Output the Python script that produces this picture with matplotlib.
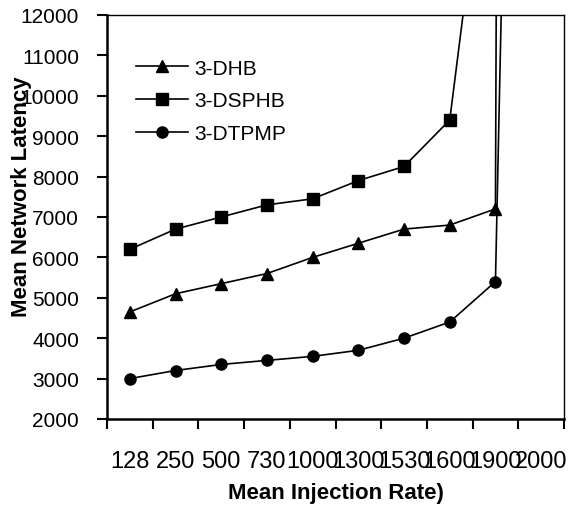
import matplotlib.pyplot as plt
import numpy as np

# dados (categorias do eixo x)
rates = ['128', '250', '500', '730', '1000', '1300', '1530', '1600', '1900', '2000']
dhb = [4650, 5100, 5350, 5600, 6000, 6350, 6700, 6800, 7200, 300000]
dsphb = [6200, 6700, 7000, 7300, 7450, 7900, 8250, 9400, 18350, np.nan]
dtpmp = [3000, 3200, 3350, 3450, 3550, 3700, 4000, 4400, 5400, 58000]
yticks = list(range(2000, 12001, 1000))

plt.rcParams['font.family'] = ['Liberation Sans', 'DejaVu Sans']

fig = plt.figure(figsize=(5.8, 5.06), dpi=100)
ax = fig.add_axes([0.1845, 0.170, 0.7879, 0.7984])

x = np.arange(len(rates))
ax.plot(x, dhb, color='black', lw=1.2, marker='^', ms=8, label='3-DHB')
ax.plot(x, dsphb, color='black', lw=1.2, marker='s', ms=8, label='3-DSPHB')
ax.plot(x, dtpmp, color='black', lw=1.2, marker='o', ms=8, label='3-DTPMP')

ax.set_ylim(2000, 12000)
ax.set_xlim(-0.5, len(rates) - 0.5)
ax.set_yticks(yticks)
ax.set_yticklabels([str(v) for v in yticks], fontsize=15)

# ticks nas divisas das categorias, rotulos no centro
ax.set_xticks(np.arange(-0.5, len(rates), 1.0))
ax.set_xticklabels([])
ax.set_xticks(x, minor=True)
ax.set_xticklabels(rates, minor=True, fontsize=17)
ax.tick_params(axis='x', which='major', direction='out', length=7, width=1.5)
ax.tick_params(axis='x', which='minor', length=0, pad=22)
ax.tick_params(axis='y', direction='out', length=7, width=1.5, pad=13)

for side in ['left', 'bottom']:
    ax.spines[side].set_linewidth(1.8)
for side in ['top', 'right']:
    ax.spines[side].set_linewidth(1.0)

ax.set_xlabel('Mean Injection Rate)', fontsize=16, fontweight='bold')
ax.set_ylabel('Mean Network Latency', fontsize=16, fontweight='bold')
ax.xaxis.set_label_coords(0.5, -0.155)
ax.yaxis.set_label_coords(-0.165, 0.553)

ax.legend(loc='upper left', bbox_to_anchor=(0.04, 0.918), frameon=False,
          fontsize=15, handlelength=2.5, handletextpad=0.3, labelspacing=0.67,
          borderpad=0)

fig.savefig('out.png', dpi=100)
plt.close(fig)
